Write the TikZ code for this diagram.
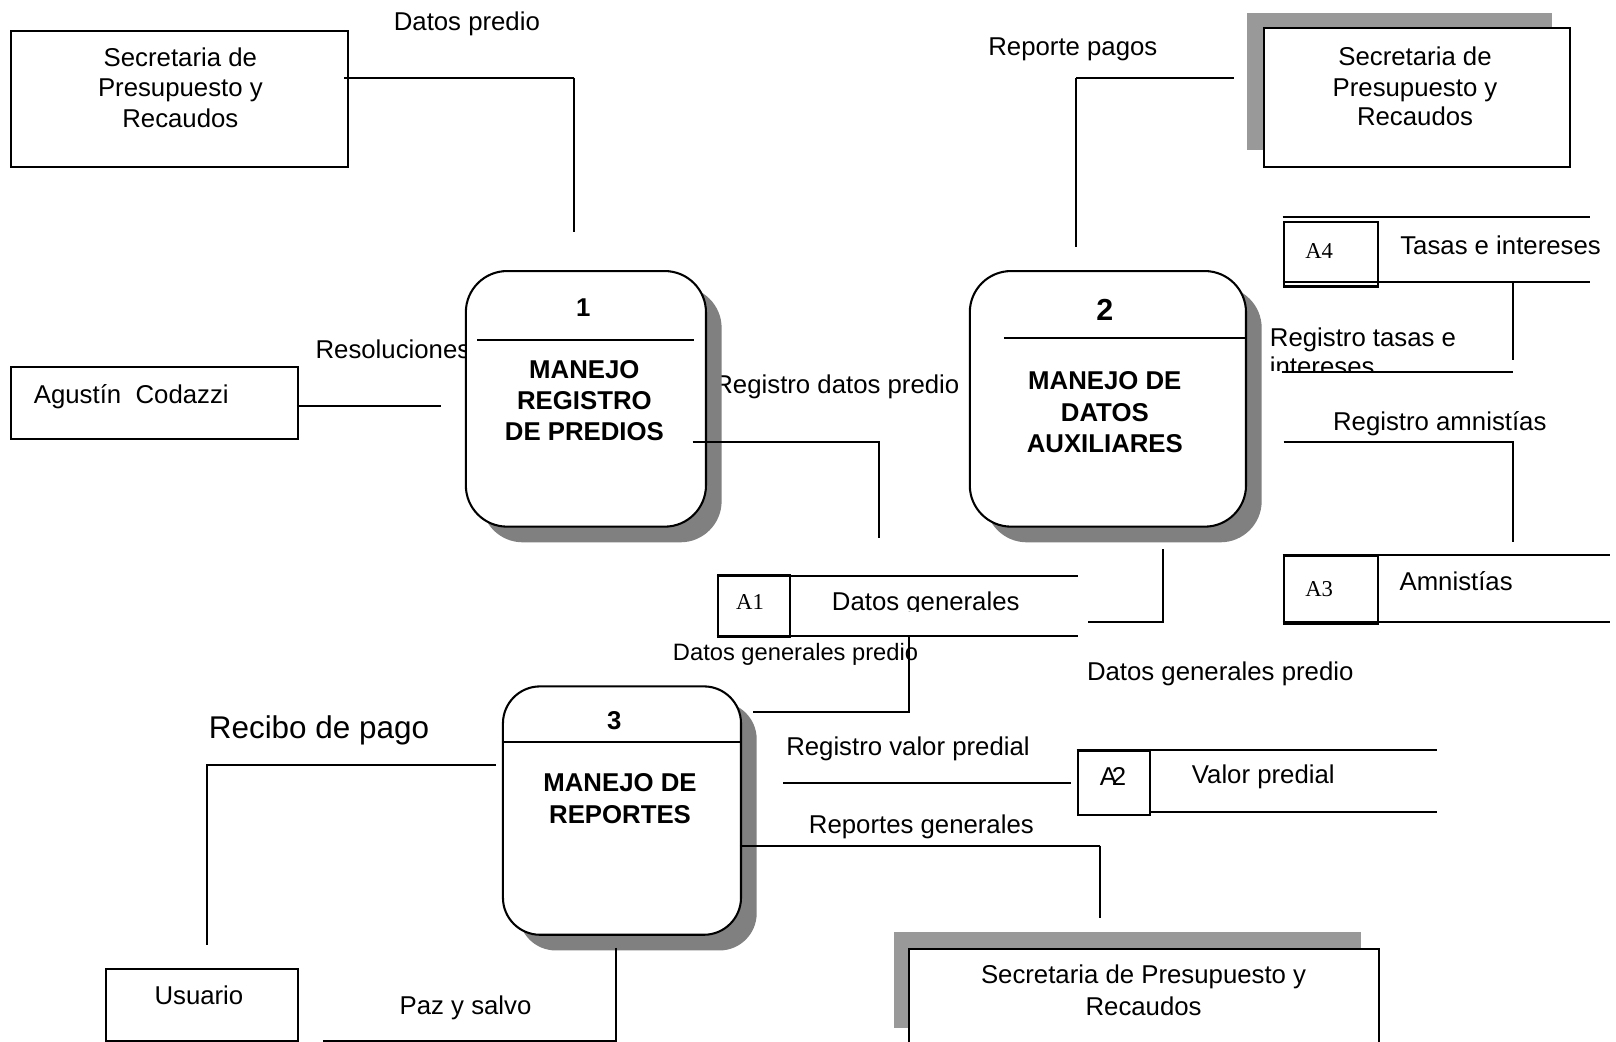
\documentclass[tikz,border=0pt]{standalone}
\usepackage{fontspec}
\setmainfont{Liberation Sans}
\newfontfamily\storefont{Liberation Serif}
\definecolor{procshade}{RGB}{128,128,128}
\definecolor{entshade}{RGB}{153,153,153}
\begin{document}
\begin{tikzpicture}[x=1pt,y=-1pt,
  ln/.style={line width=2pt},
  thin/.style={line width=1.5pt},
  lbl/.style={inner sep=0pt, font=\fontsize{25pt}{30pt}\selectfont},
  big/.style={inner sep=0pt, font=\fontsize{30.5pt}{36pt}\selectfont},
  small/.style={inner sep=0pt, font=\fontsize{23pt}{28pt}\selectfont},
  ptitle/.style={inner sep=0pt, font=\fontsize{25pt}{30pt}\selectfont\bfseries},
  sid/.style={inner sep=0pt, font=\storefont\fontsize{22pt}{26pt}\selectfont},
  ent/.style={draw, line width=2pt, fill=white, inner sep=0pt, anchor=north west},
  entsh/.style={fill=entshade, inner sep=0pt, anchor=north west},
  proc/.style={draw, line width=2pt, fill=white, rounded corners=40pt, inner sep=0pt, anchor=north west},
  procsh/.style={fill=procshade, rounded corners=40pt, inner sep=0pt, anchor=north west},
  idbox/.style={draw, line width=2pt, inner sep=0pt, anchor=north west}]

\clip (0,0) rectangle (1568,1011);
\fill[white] (0,0) rectangle (1568,1011);

% labels that sit partly behind the process boxes
\node[lbl, anchor=base west] (tResol) at (306,347.6) {Resoluciones};
\node[lbl, anchor=base east] (tRegDatos) at (931,382) {Registro datos predio};

% ---------- external entities ----------
\node[ent, minimum width=327pt, minimum height=132pt] (sec1) at (10,29) {};
\node[lbl, anchor=base] (sec1a) at (175,64.7) {Secretaria de};
\node[lbl, anchor=base] (sec1b) at (175,94) {Presupuesto y};
\node[lbl, anchor=base] (sec1c) at (175,123.8) {Recaudos};

\node[ent, minimum width=278pt, minimum height=70pt] (igac) at (10,355) {};
\node[lbl, anchor=base west] (igact) at (32.7,391.4) {Agustín\ \ Codazzi};

\node[entsh, minimum width=296pt, minimum height=133.6pt] (sec2s) at (1210,12) {};
\node[ent, minimum width=297pt, minimum height=134.5pt] (sec2) at (1225,26.5) {};
\node[lbl, anchor=base] (sec2a) at (1373,64) {Secretaria de};
\node[lbl, anchor=base] (sec2b) at (1373,93.5) {Presupuesto y};
\node[lbl, anchor=base] (sec2c) at (1373,122) {Recaudos};

\node[entsh, minimum width=453pt, minimum height=93pt] (sec3s) at (867,904) {};
\node[ent, minimum width=456pt, minimum height=120pt] (sec3) at (881,919.5) {};
\node[lbl, anchor=base] (sec3a) at (1109.6,954) {Secretaria de Presupuesto y};
\node[lbl, anchor=base] (sec3b) at (1109.6,985) {Recaudos};

\node[ent, minimum width=186.5pt, minimum height=70pt] (usr) at (101.5,939) {};
\node[lbl, anchor=base] (usrt) at (193,975) {Usuario};

% ---------- processes ----------
\node[procsh, minimum width=233pt, minimum height=248pt] (p1s) at (467,278) {};
\node[proc, minimum width=233pt, minimum height=248pt] (p1) at (451,262) {};
\draw[ln] (463,330) -- (673,330);
\node[ptitle, anchor=base] (p1n) at (566,307.3) {1};
\node[ptitle, anchor=base] (p1a) at (567,367) {MANEJO};
\node[ptitle, anchor=base] (p1b) at (567,397) {REGISTRO};
\node[ptitle, anchor=base] (p1c) at (567,427) {DE PREDIOS};

\node[procsh, minimum width=268pt, minimum height=248pt] (p2s) at (956,278) {};
\node[proc, minimum width=268pt, minimum height=248pt] (p2) at (940,262) {};
\draw[ln] (974,327.7) -- (1208,327.7);
\node[inner sep=0pt, font=\fontsize{29.5pt}{34pt}\selectfont\bfseries, anchor=base] (p2n) at (1072,310.5) {2};
\node[ptitle, anchor=base] (p2a) at (1072,378.4) {MANEJO DE};
\node[ptitle, anchor=base] (p2b) at (1072,409) {DATOS};
\node[ptitle, anchor=base] (p2c) at (1072,439.3) {AUXILIARES};

\node[procsh, minimum width=231pt, minimum height=241pt, rounded corners=36pt] (p3s) at (503,681) {};
\node[proc, minimum width=231pt, minimum height=241pt, rounded corners=36pt] (p3) at (487,665) {};
\draw[ln] (487,719.6) -- (718,719.6);
\node[ptitle, anchor=base] (p3n) at (596,708.3) {3};
\node[ptitle, anchor=base] (p3a) at (601.6,768.2) {MANEJO DE};
\node[ptitle, anchor=base] (p3b) at (601.6,799) {REPORTES};

% ---------- data stores ----------
% A4
\draw[ln] (1244.6,211) -- (1543,211);
\draw[ln] (1244.6,273.3) -- (1543,273.3);
\node[idbox, minimum width=91.2pt, minimum height=63pt] (a4) at (1244.6,214) {};
\node[sid, anchor=base] (a4t) at (1280,250.7) {A4};
\node[lbl, anchor=base west] (a4n) at (1358.5,247.4) {Tasas e intereses};
% A3
\draw[ln] (1244.6,538.5) -- (1562,538.5);
\draw[ln] (1244.6,603.2) -- (1562,603.2);
\node[idbox, minimum width=91.2pt, minimum height=66pt] (a3) at (1244.6,538.5) {};
\node[sid, anchor=base] (a3t) at (1280,579) {A3};
\node[lbl, anchor=base west] (a3n) at (1357.8,572.5) {Amnistías};
% A1
\draw[ln] (695.4,558.6) -- (1045.7,558.6);
\draw[ln] (695.4,616.8) -- (1045.7,616.8);
\node[idbox, minimum width=70.2pt, minimum height=59.8pt] (a1) at (695.4,557) {};
\node[sid, anchor=base] (a1t) at (727.7,591.2) {A1};
\begin{scope}
  \clip (780,560) rectangle (1040,593.5);
  \node[lbl, anchor=base west] (a1n) at (807,592) {Datos generales};
\end{scope}
% A2
\draw[ln] (1044.7,727.7) -- (1394.6,727.7);
\draw[ln] (1115,787.5) -- (1394.6,787.5);
\node[idbox, minimum width=70.3pt, minimum height=62.3pt] (a2) at (1044.7,727.7) {};
\node[lbl, anchor=base] (a2t) at (1080,761.8) {A\kern-5pt 2};
\node[lbl, anchor=base west] (a2n) at (1156.3,760) {Valor predial};

% ---------- data flows ----------
\coordinate (dpA) at (334,75.4);
\coordinate (dpB) at (557,75.4);
\coordinate (dpC) at (557,225.5);
\draw[ln] (dpA) -- (dpB);
\draw[thin] (dpB) -- (dpC);
\node[lbl, anchor=base] (tDatosPredio) at (453,30) {Datos predio};

\coordinate (reA) at (288,394);
\coordinate (reB) at (428,394);
\draw[ln] (reA) -- (reB);

\coordinate (rdA) at (672,428.6);
\coordinate (rdB) at (853,428.6);
\coordinate (rdC) at (853,522);
\draw[ln] (rdA) -- (rdB) -- (rdC);

\coordinate (rpA) at (1197,76);
\coordinate (rpB) at (1044,76);
\coordinate (rpC) at (1044,239.5);
\draw[ln] (rpA) -- (rpB);
\draw[thin] (rpB) -- (rpC);
\node[lbl, anchor=base] (tRepPagos) at (1041,54) {Reporte pagos};

\coordinate (rtA) at (1468.4,273.3);
\coordinate (rtB) at (1468.4,349.3);
\coordinate (rtC) at (1243.6,360.6);
\coordinate (rtD) at (1468.4,360.6);
\draw[ln] (rtA) -- (rtB);
\node[lbl, anchor=base west] (tRegTasas) at (1232,336.4) {Registro tasas e};
\begin{scope}
  \clip (1225,340) rectangle (1400,359.6);
  \node[lbl, anchor=base west] (tRegTasas2) at (1232,364) {intereses};
\end{scope}
\draw[ln] (rtC) -- (rtD);

\coordinate (raA) at (1245.5,428.6);
\coordinate (raB) at (1468.4,428.6);
\coordinate (raC) at (1468.4,525.6);
\draw[ln] (raA) -- (raB) -- (raC);
\node[lbl, anchor=base] (tRegAmn) at (1397,417.5) {Registro amnistías};

\coordinate (dgA) at (1128,532.7);
\coordinate (dgB) at (1128,603.2);
\coordinate (dgC) at (1055.7,603.2);
\draw[ln] (dgA) -- (dgB) -- (dgC);
\node[lbl, anchor=base] (tDGP2) at (1184,660) {Datos generales predio};

\node[small, anchor=base east] (tDGP1) at (891,640.4) {Datos generales predio};
\coordinate (dlA) at (882,616.8);
\coordinate (dlB) at (882,690.5);
\coordinate (dlC) at (731,690.5);
\draw[ln] (dlA) -- (dlB) -- (dlC);

\node[big, anchor=base] (tRecibo) at (309.5,716.4) {Recibo de pago};
\coordinate (rcA) at (481,742.6);
\coordinate (rcB) at (200.5,742.6);
\coordinate (rcC) at (200.5,917);
\draw[ln] (rcA) -- (rcB) -- (rcC);

\node[lbl, anchor=base] (tRegValor) at (881,733.5) {Registro valor predial};
\coordinate (rvA) at (760,759.4);
\coordinate (rvB) at (1039,759.4);
\draw[ln] (rvA) -- (rvB);

\node[lbl, anchor=base] (tRepGen) at (894,808.6) {Reportes generales};
\coordinate (rgA) at (718,820.6);
\coordinate (rgB) at (1067.5,820.6);
\coordinate (rgC) at (1067.5,891);
\draw[ln] (rgA) -- (rgB);
\draw[thin] (rgB) -- (rgC);

\node[lbl, anchor=base west] (tPaz) at (387.6,984) {Paz y salvo};
\coordinate (pzA) at (598,919.6);
\coordinate (pzB) at (598,1010);
\coordinate (pzC) at (313,1010);
\draw[ln] (pzA) -- (pzB) -- (pzC);

\end{tikzpicture}
\end{document}
